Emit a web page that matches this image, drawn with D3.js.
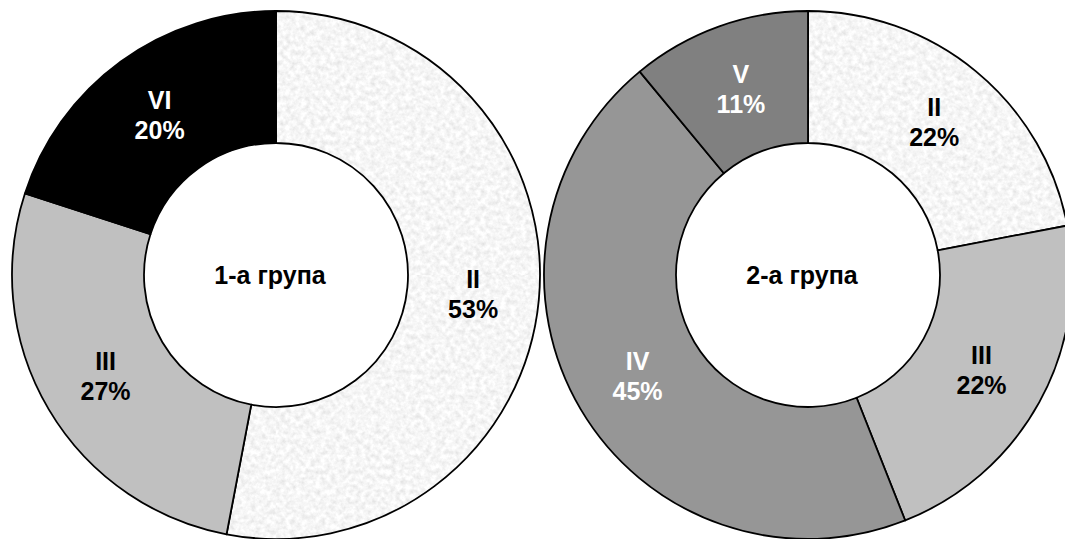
<!DOCTYPE html>
<html><head><meta charset="utf-8">
<script src="https://cdn.jsdelivr.net/npm/d3@7"></script>
<style>html,body{margin:0;padding:0;background:#fff;overflow:hidden}</style>
</head><body>
<svg id="chart" width="1065" height="539"></svg>
<script>
// Data
const groupTitles = ["1-а група", "2-а група"];
const categories1 = ["II", "III", "VI"];
const values1 = [53, 27, 20];
const categories2 = ["II", "III", "IV", "V"];
const values2 = [22, 22, 45, 11];

// Styles
const fills = {II: "url(#granite)", III: "#c0c0c0", IV: "#969696", V: "#808080", VI: "#000000"};
const labelColors = {II: "#000", III: "#000", IV: "#fff", V: "#fff", VI: "#fff"};

const svg = d3.select("#chart");
const defs = svg.append("defs");
const filt = defs.append("filter").attr("id", "noise").attr("x", 0).attr("y", 0).attr("width", "100%").attr("height", "100%");
filt.append("feTurbulence").attr("type", "fractalNoise").attr("baseFrequency", 0.2).attr("numOctaves", 3).attr("seed", 7).attr("result", "n");
filt.append("feColorMatrix").attr("in", "n").attr("type", "matrix")
  .attr("values", "0.38 0 0 0 0.73  0.38 0 0 0 0.73  0.38 0 0 0 0.73  0 0 0 0 1");
const pat = defs.append("pattern").attr("id", "granite").attr("patternUnits", "userSpaceOnUse")
  .attr("width", 1065).attr("height", 539);
pat.append("rect").attr("width", 1065).attr("height", 539).attr("filter", "url(#noise)");

const outerR = 264, innerR = 132;
const arc = d3.arc().innerRadius(innerR).outerRadius(outerR);
const labelArc = d3.arc().innerRadius((innerR + outerR) / 2).outerRadius((innerR + outerR) / 2);
const pie = d3.pie().sort(null).value(d => d.v);

const donuts = [
  {cx: 276, cy: 275, title: groupTitles[0], data: categories1.map((c, i) => ({c, v: values1[i]}))},
  {cx: 808, cy: 275, title: groupTitles[1], data: categories2.map((c, i) => ({c, v: values2[i]}))}
];

donuts.forEach(d => {
  const g = svg.append("g").attr("transform", `translate(${d.cx},${d.cy})`);
  const arcs = pie(d.data);
  g.selectAll("path.slice").data(arcs).join("path")
    .attr("class", "slice")
    .attr("d", arc)
    .attr("fill", a => fills[a.data.c])
    .attr("stroke", "#000").attr("stroke-width", 1.8).attr("stroke-linejoin", "round");
  const lbl = g.selectAll("text.lbl").data(arcs).join("text")
    .attr("class", "lbl")
    .attr("transform", a => `translate(${labelArc.centroid(a)})`)
    .attr("text-anchor", "middle")
    .attr("font-family", "Liberation Sans, Arial, sans-serif")
    .attr("font-weight", "bold").attr("font-size", 25)
    .attr("fill", a => labelColors[a.data.c]);
  lbl.append("tspan").attr("x", 0).attr("y", -6).text(a => a.data.c);
  lbl.append("tspan").attr("x", 0).attr("y", 24).text(a => a.data.v + "%");
  g.append("text").attr("x", -6).attr("y", 0).attr("dy", "0.35em")
    .attr("text-anchor", "middle")
    .attr("font-family", "Liberation Sans, Arial, sans-serif")
    .attr("font-weight", "bold").attr("font-size", 25)
    .attr("fill", "#000").text(d.title);
});
</script>
</body></html>
